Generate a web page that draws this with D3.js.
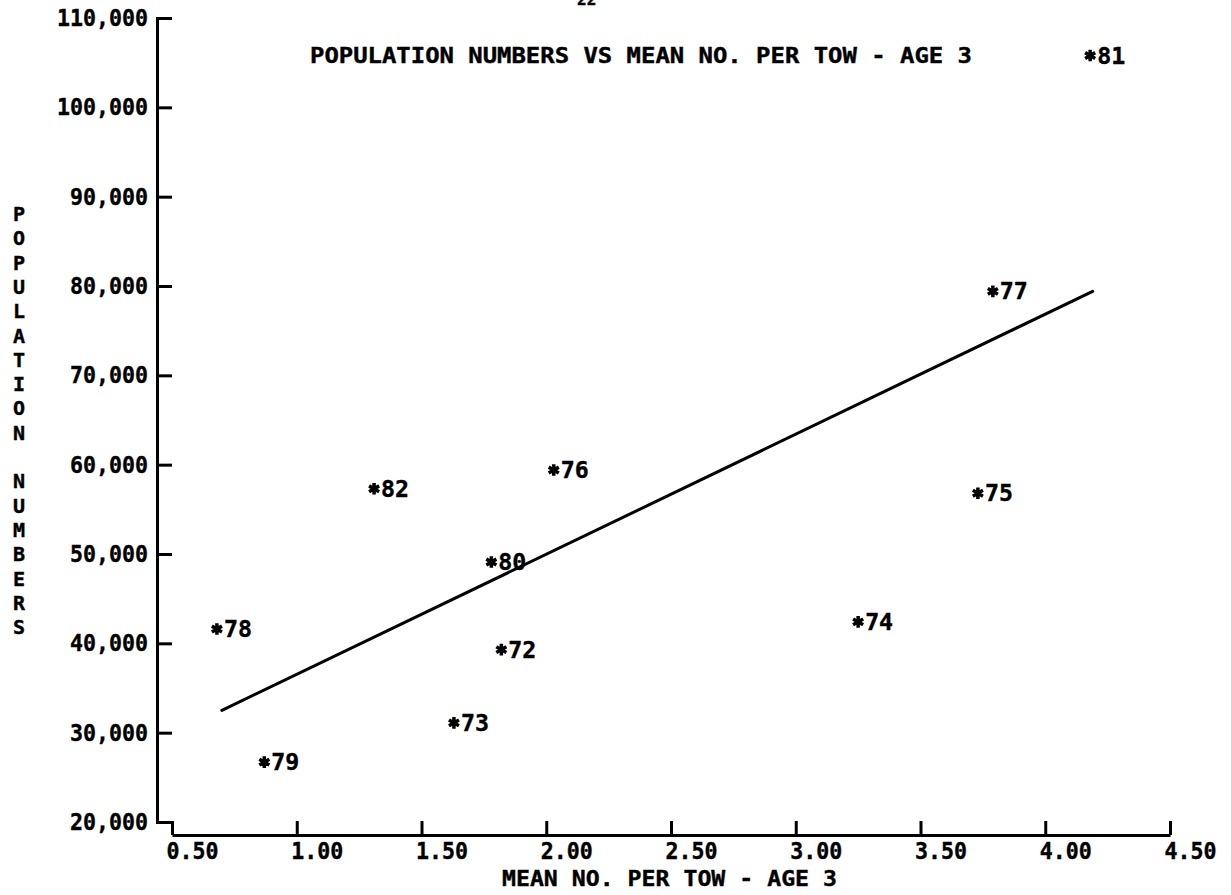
<!DOCTYPE html>
<html>
<head>
<meta charset="utf-8">
<script src="https://cdn.jsdelivr.net/npm/d3@7"></script>
<style>
  html, body { margin: 0; padding: 0; background: #fff; }
  svg { display: block; }
  text { font-family: "DejaVu Sans Mono", "Liberation Mono", monospace; font-weight: bold; fill: #000; stroke: #000; stroke-width: 0.4; }
</style>
</head>
<body>
<svg id="chart" width="1231" height="895"></svg>
<script>
// Survey years (19xx) labelling each point
const years = ["72", "73", "74", "75", "76", "77", "78", "79", "80", "81", "82"];
// Mean number per tow, age 3
const meanPerTow = [1.82, 1.63, 3.25, 3.73, 2.03, 3.79, 0.68, 0.87, 1.78, 4.18, 1.31];
// Population numbers (thousands of fish)
const population = [39300, 31100, 42400, 56800, 59400, 79400, 41600, 26700, 49100, 105800, 57300];
// Fitted regression line end points
const fitX = [0.70, 4.19];
const fitY = [32500, 79400];
// Axis ticks
const xTicks = [0.5, 1.0, 1.5, 2.0, 2.5, 3.0, 3.5, 4.0, 4.5];
const yTicks = [20000, 30000, 40000, 50000, 60000, 70000, 80000, 90000, 100000, 110000];

const svg = d3.select("#chart");

const x = d3.scaleLinear().domain([0.5, 4.5]).range([172, 1170]);
const y = d3.scaleLinear().domain([20000, 110000]).range([822, 18]);

// Plotter-style lettering: fixed advance per character
const CHAR_W = 13;

// y axis: ticks point into the plot
const yAxis = d3.axisLeft(y)
  .tickValues(yTicks)
  .tickSizeInner(-15)
  .tickSizeOuter(0)
  .tickPadding(9)
  .tickFormat(d3.format(","));

const gy = svg.append("g").attr("transform", "translate(157,0)").call(yAxis);
gy.selectAll("path, line").attr("stroke", "#000").attr("stroke-width", 3);
gy.select(".domain").attr("stroke-linecap", "square");
gy.selectAll("text")
  .attr("font-size", 23).attr("font-family", null).attr("fill", "#000")
  .attr("textLength", function () { return this.textContent.length * CHAR_W; })
  .attr("lengthAdjust", "spacingAndGlyphs");

// x axis: ticks point up, labels start at the tick
const xAxis = d3.axisBottom(x)
  .tickValues(xTicks)
  .tickSizeInner(-14)
  .tickSizeOuter(0)
  .tickPadding(8)
  .tickFormat(d3.format(".2f"));

const gx = svg.append("g").attr("transform", "translate(0,835)").call(xAxis);
gx.selectAll("path, line").attr("stroke", "#000").attr("stroke-width", 3);
gx.selectAll("text")
  .attr("font-size", 23).attr("font-family", null).attr("fill", "#000")
  .attr("text-anchor", "start").attr("dx", -6)
  .attr("textLength", function () { return this.textContent.length * CHAR_W; })
  .attr("lengthAdjust", "spacingAndGlyphs");

// regression line
svg.append("path")
  .datum(d3.zip(fitX, fitY))
  .attr("d", d3.line().x(d => x(d[0])).y(d => y(d[1])))
  .attr("fill", "none")
  .attr("stroke", "#000")
  .attr("stroke-width", 3)
  .attr("stroke-linecap", "round");

// points: asterisk plus year label
const pts = years.map((yr, i) => ({ yr, mx: meanPerTow[i], pop: population[i] }));
const star = d3.symbol().type(d3.symbolAsterisk || d3.symbolCross).size(95);

const gp = svg.append("g").selectAll("g").data(pts).join("g")
  .attr("transform", d => `translate(${x(d.mx)},${y(d.pop)})`);
gp.append("path").attr("d", star).attr("fill", "#000").attr("stroke", "#000").attr("stroke-width", 3.5);
gp.append("text")
  .attr("x", 7).attr("y", 8)
  .attr("font-size", 23)
  .attr("textLength", d => d.yr.length * 14).attr("lengthAdjust", "spacingAndGlyphs")
  .text(d => d.yr);

// title
svg.append("text")
  .attr("x", 310).attr("y", 63)
  .attr("font-size", 21)
  .attr("textLength", 662).attr("lengthAdjust", "spacingAndGlyphs")
  .text("POPULATION NUMBERS VS MEAN NO. PER TOW - AGE 3");

// x axis title
svg.append("text")
  .attr("x", 502).attr("y", 886)
  .attr("font-size", 22)
  .attr("textLength", 335).attr("lengthAdjust", "spacingAndGlyphs")
  .text("MEAN NO. PER TOW - AGE 3");

// y axis title, stacked letters
const yTitle = "POPULATION NUMBERS".split("");
svg.append("g").selectAll("text").data(yTitle).join("text")
  .attr("x", 19)
  .attr("y", (d, i) => 221 + i * 24.3)
  .attr("text-anchor", "middle")
  .attr("font-size", 20)
  .text(d => d);

// page number at the top edge
svg.append("text")
  .attr("x", 577).attr("y", 5)
  .attr("font-size", 16)
  .text("22");
</script>
</body>
</html>
